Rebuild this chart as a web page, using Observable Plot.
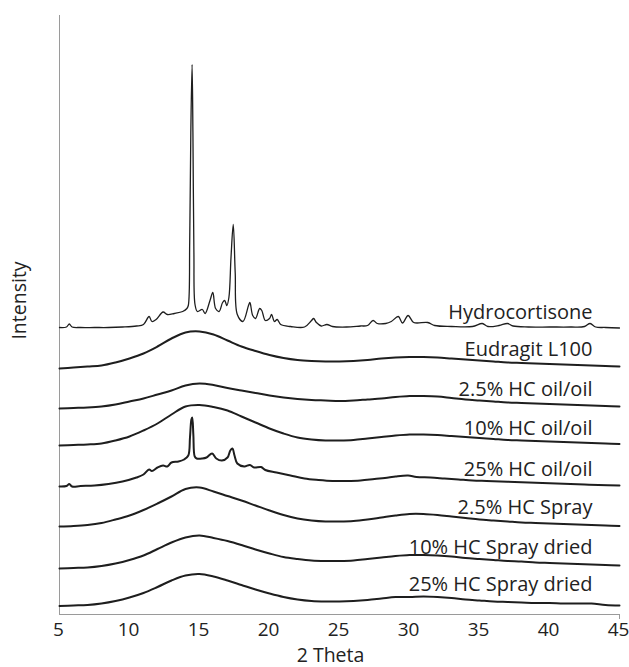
<!DOCTYPE html>
<html>
<head>
<meta charset="utf-8">
<script src="https://cdn.jsdelivr.net/npm/d3@7"></script>
<script src="https://cdn.jsdelivr.net/npm/@observablehq/plot@0.6"></script>
<style>
  body { margin: 0; background: #fff; }
  #chart svg { display: block; }
</style>
</head>
<body>
<div id="chart"></div>
<script>
// ---- Data (relative intensity, arbitrary units; traces are stacked by offsets) ----
const names = ["Hydrocortisone", "Eudragit L100", "2.5% HC oil/oil", "10% HC oil/oil",
               "25% HC oil/oil", "2.5% HC Spray", "10% HC Spray dried", "25% HC Spray dried"];
const offsets = [282, 245, 205, 166, 125, 87, 47, 10];
const xTicks = [5, 10, 15, 20, 25, 30, 35, 40, 45];

// Hydrocortisone (crystalline)
const hcTheta = [5.0,5.5,5.7,5.9,6.5,7.5,8.5,9.5,10.5,11.0,11.4,11.6,11.9,12.4,12.7,13.2,13.8,14.1,14.2,14.3,14.38,14.47,14.53,14.6,14.68,14.85,15.2,15.4,15.75,15.95,16.15,16.4,16.65,16.8,16.95,17.1,17.25,17.41,17.55,17.7,18.1,18.5,18.6,18.8,19.0,19.3,19.45,19.7,20.0,20.15,20.35,20.55,20.8,21.5,22.5,23.0,23.15,23.35,23.7,24.1,24.5,25.5,26.5,27.0,27.4,27.7,28.3,28.7,29.2,29.5,29.9,30.3,31.3,31.8,33.0,34.5,35.2,35.6,36.4,37.0,37.4,38.5,40.0,41.5,42.5,42.9,43.3,44.0,45.0];
const hcInt   = [5,5.5,8.5,5.5,5,5,5,5.5,6.5,8,16,11,13,20.5,18,19,21,24,27,90,200,268,200,80,28,21,23,19,32,40,24,21,30,32,27,35,75,108,60,18,11,27,30,17,14,24,22,12,14,18,11,13,8,6,5.5,12,14,10,6.5,8,6,5.5,6.5,7,12,9,9,11,16,9.5,17,10,10,7,6,6,9,6,7,9,6.5,5.5,5.5,5.5,6,9,5.5,5,4.5];

// 25% HC oil/oil (halo with residual peaks)
const oil25Theta = [5,5.5,5.7,5.9,6.5,7.5,8.5,9.5,10.5,11.0,11.4,11.6,12.0,12.4,12.7,13.0,13.5,13.9,14.2,14.32,14.42,14.48,14.56,14.66,14.8,15.2,15.5,15.9,16.2,16.6,17.0,17.2,17.35,17.5,17.7,18.2,18.6,18.9,19.4,19.7,20.5,21.5,22.5,23.5,24.5,25.5,26.5,27.5,28.5,29.0,29.9,30.5,31.5,32.5,33.5,34.5,35.5,36.5,37.5,38.5,39.5,40.5,41.5,42.5,43.5,45];
const oil25Int   = [3,3.5,5.5,3,3.5,4,5.5,8,12,15,20,18.5,22,24,23,27,28,30,34,52,70,72,55,33,31,31,32,36,31,29,32,39,41,34,26,23,24.5,22,22.5,19.5,17,14,11,9.5,8.5,8.5,9,10.5,12,13,14,12.5,12,11,10,9,8.5,8,7.5,7,6.5,6,5.5,5,4.5,4];

// Amorphous halos, sampled every 1 degree 2θ from 5 to 45
const haloTheta = [5,6,7,8,9,10,11,12,13,14,15,16,17,18,19,20,21,22,23,24,25,26,27,28,29,30,31,32,33,34,35,36,37,38,39,40,41,42,43,44,45];
const eudragit = [1,2,3,4,7,11,16,23,31,37,38,35,29,23,18.5,14.5,11.5,9.5,8.5,8,8,8.5,9.5,11,12,12.5,12.5,12,11,10,9,8,7,6.5,6,5.5,5,4.5,4,3.5,3];
const oil2_5   = [1,1.5,2,3,5,8,11,15,19,24,26,24.5,21.5,19,16.5,14,12,10.5,9.5,9,8.5,9,10,11,12.5,13.5,13.5,13,11.5,10,9,8,7,6.5,6,5.5,5,4.5,4,3.5,3];
const oil10    = [3,3.5,4,5,8,12,18,25,34,42,43.5,41.5,38,32,26,20,15,11,9,8,8,8.5,10,11.5,13,14,14,13.5,12.5,11.5,10.5,9.5,8.5,8,7.5,7,6.5,6,5.5,5,4.5];
const spray2_5 = [1,1.5,2.5,4.5,8,12,17.5,24,31,38.5,40,36,31.5,27,22,17,12.5,9,7,6,6,6.5,8,10,12,13.5,13.5,12.5,11,9.5,8,7,6,5,4.5,4,3.5,3,2.5,2,1.5];
const spray10  = [-1,-0.5,0,1.5,4,7.5,12,18.5,25,30,32,29.5,26.5,22.5,18,14,10.5,8.5,7,6.5,6.5,7,8.5,10,11.5,12.5,12.5,12,11,9.5,8.5,7.5,6.5,6,5,4.5,4,3.5,3,2.5,2];
const spray25  = [-1.5,-1,-0.5,1,3.5,7,11.5,17.5,24,29,30.5,28,24,19.5,15,11,7.5,5,3.5,3,3,3.5,4.5,6,7.5,7.5,8,7.5,6.5,5,4,3,2.5,2,1.5,1.5,1,1,1,-0.5,-1];

// ---- Build table ----
const seriesDefs = [
  [hcTheta, hcInt, "thin"],
  [haloTheta, eudragit, "thick"],
  [haloTheta, oil2_5, "thick"],
  [haloTheta, oil10, "thick"],
  [oil25Theta, oil25Int, "thick"],
  [haloTheta, spray2_5, "thick"],
  [haloTheta, spray10, "thick"],
  [haloTheta, spray25, "thick"]
];
const rows = [];
seriesDefs.forEach(([th, vals, kind], s) => {
  th.forEach((t, i) => rows.push({name: names[s], theta: t, y: offsets[s] + vals[i], kind}));
});
const labels = names.map((n, i) => ({name: n, y: offsets[i]}));

const ink = "#1e1e1e";
const axisGray = "#9a9a9a";

const chart = Plot.plot({
  width: 629,
  height: 667,
  marginTop: 15,
  marginBottom: 53,
  marginLeft: 59,
  marginRight: 10,
  style: {fontFamily: "'Open Sans', sans-serif", background: "#fff", color: "#222"},
  x: {domain: [5, 45]},
  y: {domain: [0, 599], axis: null},
  marks: [
    Plot.ruleX([5], {stroke: axisGray, strokeWidth: 1}),
    Plot.ruleY([0], {stroke: axisGray, strokeWidth: 1}),
    Plot.axisX([45], {tickSize: 5, text: null, stroke: axisGray, label: null}),
    Plot.axisX(xTicks, {tickSize: 0, tickPadding: 8, dx: -1, fontSize: 19, label: null, fill: "#222"}),
    Plot.line(rows.filter(d => d.kind === "thin"), {x: "theta", y: "y", z: "name", stroke: ink, strokeWidth: 1.3, curve: "catmull-rom"}),
    Plot.line(rows.filter(d => d.kind === "thick"), {x: "theta", y: "y", z: "name", stroke: ink, strokeWidth: 2, curve: "catmull-rom"}),
    Plot.text(labels, {y: "y", text: "name", frameAnchor: "right", dx: -27, dy: -14, textAnchor: "end", lineAnchor: "bottom", fontSize: 20, fill: "#222"}),
    Plot.text(["2 Theta"], {frameAnchor: "bottom", dx: -9, dy: 47, lineAnchor: "bottom", fontSize: 19.5, fill: "#222"}),
    Plot.text(["Intensity"], {frameAnchor: "left", y: 314, dx: -34, rotate: -90, textAnchor: "middle", lineAnchor: "bottom", fontSize: 19.5, fill: "#222"})
  ]
});
document.getElementById("chart").appendChild(chart);
</script>
</body>
</html>
